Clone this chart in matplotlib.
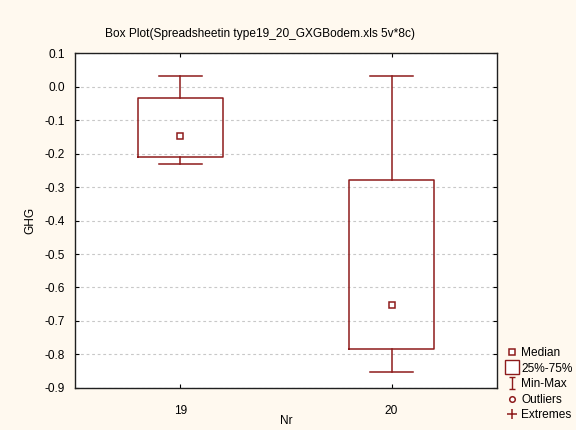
import matplotlib
matplotlib.use('Agg')
import matplotlib.pyplot as plt
from matplotlib.lines import Line2D
from matplotlib.path import Path

plt.rcParams['font.family'] = ['Liberation Sans', 'DejaVu Sans']

# box plot summary values
groups = [19, 20]
medians = [-0.147, -0.653]
q1 = [-0.21, -0.785]
q3 = [-0.035, -0.28]
mins = [-0.23, -0.851]
maxs = [0.03, 0.03]

yticks = [0.1, 0.0, -0.1, -0.2, -0.3, -0.4, -0.5, -0.6, -0.7, -0.8, -0.9]

red = '#8E1B1B'
bg = '#FFF9EF'
fs = 8.6

fig = plt.figure(figsize=(5.76, 4.30), dpi=100, facecolor=bg)
ax = fig.add_axes([0.130, 0.0977, 0.733, 0.779])
ax.set_facecolor('white')

stats = []
for g, m, a, b, lo, hi in zip(groups, medians, q1, q3, mins, maxs):
    stats.append({'med': m, 'q1': a, 'q3': b, 'whislo': lo, 'whishi': hi,
                  'fliers': [], 'label': str(g)})

lw = 1.1
ax.bxp(stats, positions=groups, widths=0.4, capwidths=0.2, showfliers=False,
       boxprops=dict(color=red, linewidth=lw),
       whiskerprops=dict(color=red, linewidth=lw),
       capprops=dict(color=red, linewidth=lw),
       medianprops=dict(linewidth=0))
ax.plot(groups, medians, linestyle='none', marker='s', markersize=4.5,
        markerfacecolor='white', markeredgecolor=red, markeredgewidth=1.1, zorder=5)

ax.set_xlim(18.5, 20.5)
ax.set_ylim(-0.9, 0.1)
ax.set_yticks(yticks)
ax.set_yticklabels(['%.1f' % v for v in yticks])
ax.set_xticks(groups)
ax.set_xticklabels([str(g) for g in groups])
ax.tick_params(direction='in', top=True, right=True, length=3, labelsize=fs)
ax.tick_params(axis='y', pad=7)
ax.tick_params(axis='x', pad=12)
ax.yaxis.grid(True, color='#C8C8C8', linestyle=(0, (2.5, 2.5)), linewidth=0.8)
ax.set_axisbelow(True)
for s in ax.spines.values():
    s.set_linewidth(1.0)
    s.set_color('#202020')

ax.set_ylabel('GHG', fontsize=fs, labelpad=6)
fig.text(286 / 576, 1 - 421 / 430, 'Nr', ha='center', va='center', fontsize=fs)

fig.text(260 / 576, 1 - 34 / 430,
         'Box Plot(Spreadsheetin type19_20_GXGBodem.xls 5v*8c)',
         ha='center', va='center', fontsize=fs)

# legend
ibeam = Path([(-0.5, 1), (0.5, 1), (0, 1), (0, -1), (-0.5, -1), (0.5, -1)],
             [Path.MOVETO, Path.LINETO, Path.MOVETO, Path.LINETO, Path.MOVETO, Path.LINETO])
handles = [
    Line2D([], [], linestyle='none', marker='s', markersize=4, markerfacecolor='white',
           markeredgecolor=red, markeredgewidth=1.1),
    Line2D([], [], linestyle='none', marker='s', markersize=9.5, markerfacecolor='white',
           markeredgecolor=red, markeredgewidth=1.0),
    Line2D([], [], linestyle='none', marker=ibeam, markersize=9, markerfacecolor='none',
           markeredgecolor=red, markeredgewidth=1.0),
    Line2D([], [], linestyle='none', marker='o', markersize=4, markerfacecolor='white',
           markeredgecolor=red, markeredgewidth=1.1),
    Line2D([], [], linestyle='none', marker='+', markersize=7, markeredgecolor=red,
           markeredgewidth=1.1),
]
labels = ['Median', '25%-75%', 'Min-Max', 'Outliers', 'Extremes']
fig.legend(handles, labels, loc='upper left', bbox_to_anchor=(507 / 576, 1 - 347 / 430),
           frameon=False, fontsize=fs, handlelength=0.9, handletextpad=0.3,
           labelspacing=0.3, borderpad=0, borderaxespad=0)

fig.savefig('out.png', dpi=100, facecolor=bg)
